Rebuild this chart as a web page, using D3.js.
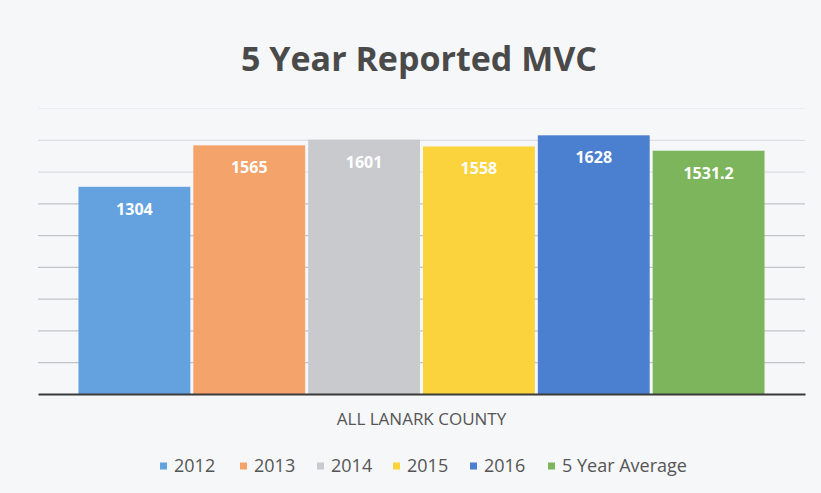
<!DOCTYPE html>
<html>
<head>
<meta charset="utf-8">
<script src="https://cdn.jsdelivr.net/npm/d3@7"></script>
<style>
	html, body { margin: 0; padding: 0; background: #f6f7f9; }
	svg { display: block; }
</style>
</head>
<body>
<div id="chart"></div>
<script>
/* chart data */
const categories = ["ALL LANARK COUNTY"];
const seriesNames = ["2012", "2013", "2014", "2015", "2016", "5 Year Average"];
const seriesValues = [1304, 1565, 1601, 1558, 1628, 1531.2];
const seriesColors = ["#63a2de", "#f4a36b", "#c9cacd", "#fbd33c", "#4b7fcf", "#7db55d"];
const yTicks = [0, 200, 400, 600, 800, 1000, 1200, 1400, 1600, 1800];

const width = 821, height = 493;
const margin = { top: 108, right: 16, bottom: 99, left: 38 };

const svg = d3.select("#chart")
	.append("svg")
	.attr("width", width)
	.attr("height", height);

svg.append("rect")
	.attr("width", width)
	.attr("height", height)
	.attr("fill", "#f6f7f9");

/* title */
svg.append("text")
	.attr("x", 419)
	.attr("y", 71)
	.attr("text-anchor", "middle")
	.attr("font-family", "'Open Sans', sans-serif")
	.attr("font-weight", "bold")
	.attr("font-size", "34px")
	.attr("fill", "#4a4a4a")
	.text("5 Year Reported MVC");

const x0 = d3.scaleBand()
	.domain(categories)
	.range([margin.left, width - margin.right])
	.paddingOuter(0.059)
	.paddingInner(0);

const x1 = d3.scaleBand()
	.domain(seriesNames)
	.range([0, x0.bandwidth()])
	.paddingInner(0.026)
	.paddingOuter(0);

const y = d3.scaleLinear()
	.domain([0, 1800])
	.range([height - margin.bottom, margin.top]);

/* gridlines - the upper ones are faded in the scan */
const grid = svg.append("g")
	.attr("class", "grid")
	.attr("transform", `translate(${margin.left},0)`)
	.call(d3.axisLeft(y)
		.tickValues(yTicks.slice(1))
		.tickSize(-(width - margin.left - margin.right))
		.tickFormat(""));
grid.select(".domain").remove();
grid.selectAll("line")
	.attr("stroke", (d) => d >= 1800 ? "#ebecef" : d >= 1400 ? "#dcdee2" : "#c2c4c8")
	.attr("stroke-width", 1.2);

const data = seriesNames.map((s, i) => ({ series: s, value: seriesValues[i], color: seriesColors[i] }));

const groups = svg.append("g")
	.selectAll("g")
	.data(categories)
	.join("g")
	.attr("transform", (d) => `translate(${x0(d)},0)`);

groups.selectAll("rect")
	.data(data)
	.join("rect")
	.attr("x", (d) => x1(d.series))
	.attr("y", (d) => y(d.value))
	.attr("width", x1.bandwidth())
	.attr("height", (d) => y(0) - y(d.value))
	.attr("fill", (d) => d.color);

groups.selectAll("text.value")
	.data(data)
	.join("text")
	.attr("class", "value")
	.attr("x", (d) => x1(d.series) + x1.bandwidth() / 2)
	.attr("y", (d) => y(d.value) + 28)
	.attr("text-anchor", "middle")
	.attr("font-family", "'Open Sans', sans-serif")
	.attr("font-weight", "bold")
	.attr("font-size", "16px")
	.attr("fill", "#ffffff")
	.text((d) => d.value);

/* x axis (baseline + category label) */
const xAxis = svg.append("g")
	.attr("transform", `translate(0,${y(0)})`)
	.call(d3.axisBottom(x0).tickSize(0).tickPadding(19));
xAxis.select(".domain")
	.attr("stroke", "#3a3a3a")
	.attr("stroke-width", 2.2);
xAxis.selectAll("text")
	.attr("font-family", "'Open Sans', sans-serif")
	.attr("font-size", "17px")
	.attr("fill", "#555");

/* legend */
const legendX = [160, 240, 317, 393, 470, 548];
const legend = svg.append("g")
	.selectAll("g")
	.data(data)
	.join("g")
	.attr("transform", (d, i) => `translate(${legendX[i]},466)`);

legend.append("rect")
	.attr("x", 0)
	.attr("y", -3.5)
	.attr("width", 7)
	.attr("height", 7)
	.attr("fill", (d) => d.color);

legend.append("text")
	.attr("x", 14)
	.attr("y", 0)
	.attr("dy", "0.35em")
	.attr("font-family", "'Open Sans', sans-serif")
	.attr("font-size", "18px")
	.attr("fill", "#555")
	.text((d) => d.series);
</script>
</body>
</html>
